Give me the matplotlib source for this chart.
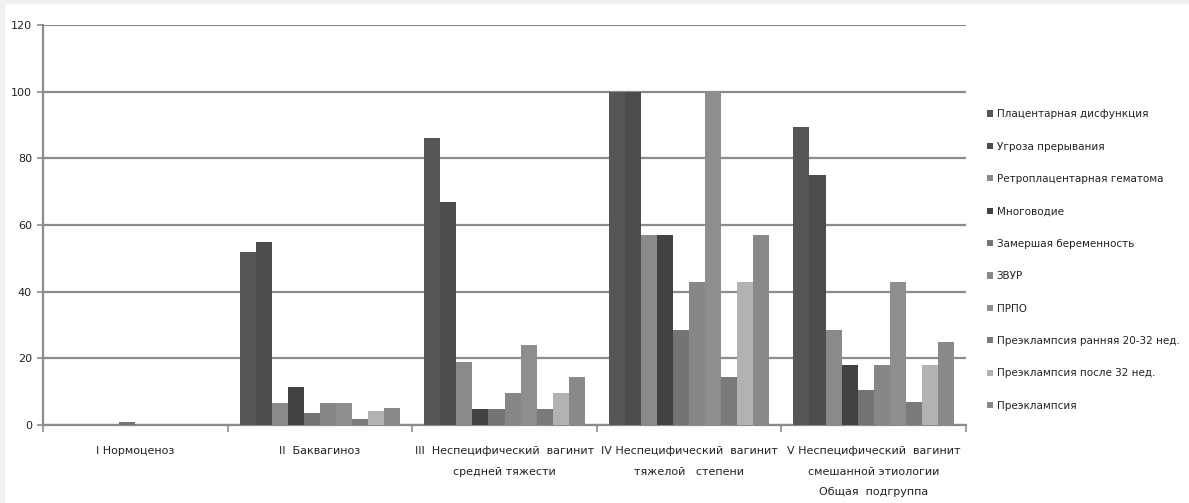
import numpy as np
import matplotlib
matplotlib.use('Agg')
import matplotlib.pyplot as plt
from matplotlib.patches import Rectangle

plt.rcParams['font.family'] = ['DejaVu Sans']

# Groups (x axis)
groups = [
    'I Нормоценоз',
    'II  Баквагиноз',
    'III  Неспецифический  вагинит\nсредней тяжести',
    'IV Неспецифический  вагинит\nтяжелой   степени',
    'V Неспецифический  вагинит\nсмешанной этиологии\nОбщая  подгруппа',
]

# Series (legend order)
series = [
    'Плацентарная дисфункция',
    'Угроза прерывания',
    'Ретроплацентарная гематома',
    'Многоводие',
    'Замершая беременность',
    'ЗВУР',
    'ПРПО',
    'Преэклампсия ранняя 20-32 нед.',
    'Преэклампсия после 32 нед.',
    'Преэклампсия',
]

# values per series, one per group (%)
placental = [0, 52, 86, 100, 89.5]
threat = [0, 55, 67, 100, 75]
hematoma = [0, 6.7, 19, 57, 28.5]
polyhydr = [0, 11.5, 4.8, 57, 18]
missed = [1, 3.5, 4.8, 28.5, 10.5]
fgr = [0, 6.7, 9.5, 42.8, 18]
prom = [0, 6.7, 24, 100, 42.8]
pe_early = [0, 1.7, 4.8, 14.3, 7]
pe_late = [0, 4.2, 9.5, 42.8, 18]
pe_total = [0, 5, 14.3, 57, 25]

values = [placental, threat, hematoma, polyhydr, missed,
          fgr, prom, pe_early, pe_late, pe_total]

colors = ['#565656', '#4c4c4c', '#8a8a8a', '#424242', '#747474',
          '#878787', '#8e8e8e', '#7a7a7a', '#b2b2b2', '#898989']

fig = plt.figure(figsize=(11.89, 5.03), dpi=100)
fig.patch.set_facecolor('#eff1f4')
fig.patches.append(Rectangle((5 / 1189, 0), 1, 1 - 4 / 503,
                             transform=fig.transFigure, facecolor='white',
                             edgecolor='none', zorder=-1))

ax = fig.add_axes([43 / 1189, 78 / 503, 923 / 1189, 400 / 503])
ax.set_facecolor('white')

n = len(series)
width = 1 / (n + 1.5)
x = np.arange(len(groups))
for i, (name, vals, c) in enumerate(zip(series, values, colors)):
    offs = (i - (n - 1) / 2) * width
    ax.bar(x + offs, vals, width=width, color=c, label=name, zorder=3)

ax.set_xlim(-0.5, len(groups) - 0.5)
ax.set_ylim(0, 120)
ax.set_yticks(np.arange(0, 121, 20))
ax.yaxis.grid(True, color='#8c8c8c', linewidth=1.6, zorder=0)
ax.tick_params(axis='y', length=4, width=1.2, color='#8c8c8c',
               labelsize=8, pad=4, labelcolor='#222222')

ax.set_xticks(x)
ax.set_xticklabels(groups, fontsize=8, color='#222222', linespacing=2.35)
ax.tick_params(axis='x', length=0, pad=15)
ax.set_xticks(np.arange(-0.5, len(groups)), minor=True)
ax.tick_params(axis='x', which='minor', length=5, width=1.2, color='#8c8c8c')

for s in ['top', 'right']:
    ax.spines[s].set_visible(False)
for s in ['left', 'bottom']:
    ax.spines[s].set_color('#8c8c8c')
    ax.spines[s].set_linewidth(1.6)

leg = ax.legend(loc='upper left', bbox_to_anchor=(1.018, 0.80),
                frameon=False, fontsize=7.5, handlelength=0.55,
                handleheight=0.55, handletextpad=0.4, labelspacing=2.15,
                borderaxespad=0)
for t in leg.get_texts():
    t.set_color('#222222')

fig.savefig('out.png', dpi=100, facecolor=fig.get_facecolor())
